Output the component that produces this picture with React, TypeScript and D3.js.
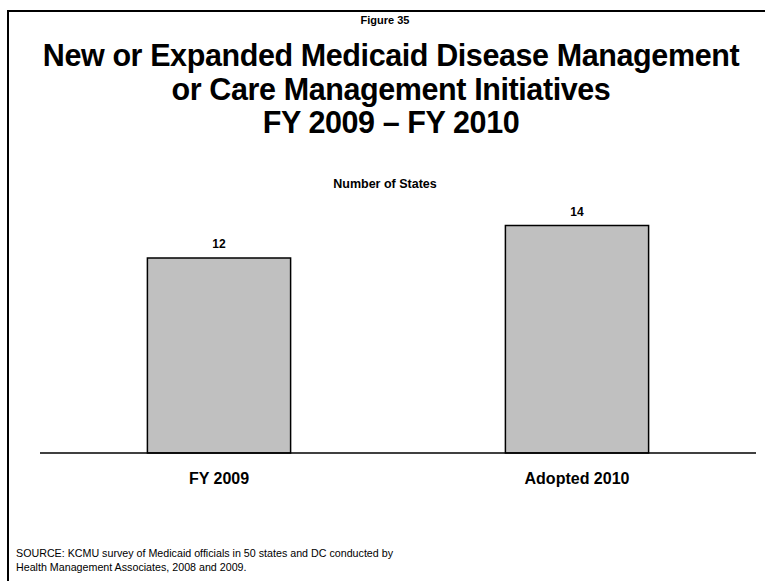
import React from "react";
import * as d3 from "d3";

const categories = ["FY 2009", "Adopted 2010"];
const values = [12, 14];
const titleLines = [
  "New or Expanded Medicaid Disease Management",
  "or Care Management Initiatives",
  "FY 2009 – FY 2010",
];
const figureLabel = "Figure 35";
const subtitle = "Number of States";
const sourceLines = [
  "SOURCE: KCMU survey of Medicaid officials in 50 states and DC conducted by",
  "Health Management Associates, 2008 and 2009.",
];

const W = 765;
const H = 581;
const FONT = "'Liberation Sans', Arial, sans-serif";

export default function App() {
  const x = d3.scalePoint<string>().domain(categories).range([40, 756]).padding(0.5);
  const step = x.step();
  const bw = step * 0.4;
  const y = d3.scaleLinear().domain([0, 14]).range([453, 225.5]);

  return (
    <svg
      width={W}
      height={H}
      style={{ position: "absolute", left: 0, top: 0, background: "#fff" }}
      fontFamily={FONT}
    >
      <rect x={0} y={0} width={W} height={H} fill="#fff" />
      {/* frame */}
      <line x1={7} y1={11} x2={W} y2={11} stroke="#000" strokeWidth={2} />
      <line x1={8} y1={10} x2={8} y2={H} stroke="#000" strokeWidth={2} />

      <text x={385} y={24} textAnchor="middle" fontSize={11} fontWeight="bold">
        {figureLabel}
      </text>
      {titleLines.map((t, i) => (
        <text
          key={i}
          x={391}
          y={66 + i * 33.5}
          textAnchor="middle"
          fontSize={30.5}
          letterSpacing={-0.4}
          fontWeight="bold"
        >
          {t}
        </text>
      ))}
      <text x={385} y={188} textAnchor="middle" fontSize={12.5} fontWeight="bold">
        {subtitle}
      </text>

      {categories.map((c, i) => {
        const cx = x(c)!;
        return (
          <g key={c}>
            <rect
              x={cx - bw / 2}
              y={y(values[i])}
              width={bw}
              height={y(0) - y(values[i])}
              fill="#C0C0C0"
              stroke="#000"
              strokeWidth={1.5}
            />
            <text
              x={cx}
              y={y(values[i]) - 10}
              textAnchor="middle"
              fontSize={12}
              fontWeight="bold"
            >
              {values[i]}
            </text>
            <text x={cx} y={484} textAnchor="middle" fontSize={16} fontWeight="bold">
              {c}
            </text>
          </g>
        );
      })}
      <line x1={40} y1={y(0)} x2={756} y2={y(0)} stroke="#000" strokeWidth={1.5} />

      {sourceLines.map((s, i) => (
        <text key={i} x={16} y={557 + i * 14} fontSize={10.7}>
          {s}
        </text>
      ))}
    </svg>
  );
}
